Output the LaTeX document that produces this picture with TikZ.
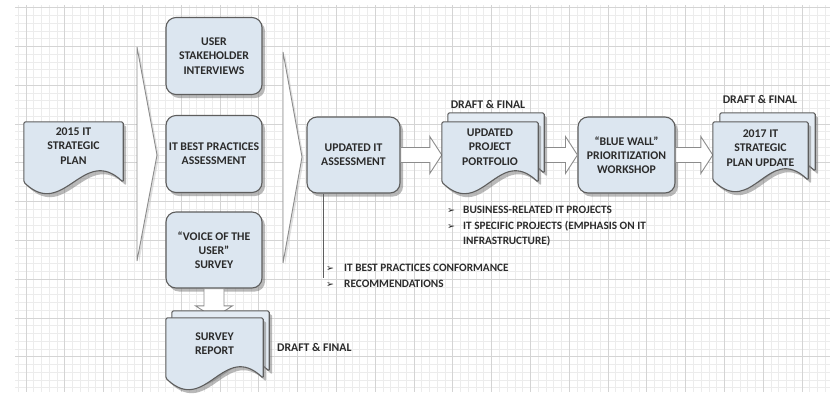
\documentclass[tikz,border=0pt]{standalone}
\usepackage{fontspec}
\setmainfont{Carlito}
\newfontfamily\symfont{DejaVu Sans}
\usetikzlibrary{calc,shadows}

\definecolor{boxfill}{HTML}{DCE6F0}
\definecolor{boxline}{HTML}{5E5E5E}
\definecolor{ink}{HTML}{2B2B2B}
\definecolor{gridminor}{HTML}{ECECEC}
\definecolor{gridmajor}{HTML}{D4D4D4}
\definecolor{arrowline}{HTML}{8C8C8C}

\tikzset{
  lbl/.style={font=\fontsize{11.8}{14.3}\selectfont\bfseries, text=ink, align=center, inner sep=0pt},
  boxshadow/.style={drop shadow={shadow xshift=3bp, shadow yshift=-3.5bp, fill=black!50, opacity=0.55}},
  procbox/.style={lbl, draw=boxline, line width=1.1bp, fill=boxfill, rounded corners=10bp,
    minimum width=96bp, minimum height=77bp, boxshadow},
  docframe/.style={inner sep=0pt, minimum width=96bp, minimum height=60bp},
  docpage/.style={draw=boxline, line width=1.1bp, fill=boxfill, rounded corners=1.5bp, boxshadow},
  backpage/.style={docpage, fill=boxfill!80!white},
  blockarrow/.style={draw=arrowline, line width=0.9bp, fill=white, line join=miter},
  chevron/.style={draw=arrowline, line width=0.9bp, fill=white,
    drop shadow={shadow xshift=2bp, shadow yshift=-2bp, fill=black!30, opacity=.4}},
  note/.style={font=\fontsize{11.3}{15.5}\selectfont\bfseries, text=ink, align=left, inner sep=0pt},
}

% page with a wavy lower edge, built on the frame node #1 and moved by (#2,#3)
\newcommand\docoutline[3]{($(#1.north west)+(#2,#3)$) -- ($(#1.north east)+(#2,#3)$)
  -- ($(#1.south east)+(#2,#3)$) .. controls +(-40,-38) and +(40,38) .. ($(#1.south west)+(#2,#3)$) -- cycle}

% horizontal block arrow from tail #1 to tip #2 (level of the tail)
\newcommand\blockarrowH[2]{\draw[blockarrow] let \p1=(#1), \p2=(#2) in
  (\x1,{\y1+7.5bp}) -- ({\x2-12bp},{\y1+7.5bp}) -- ({\x2-12bp},{\y1+18.5bp}) -- (\x2,\y1)
  -- ({\x2-12bp},{\y1-18.5bp}) -- ({\x2-12bp},{\y1-7.5bp}) -- (\x1,{\y1-7.5bp}) -- cycle;}

% downward block arrow from #1 to #2
\newcommand\blockarrowV[2]{\draw[blockarrow] let \p1=(#1), \p2=(#2) in
  ({\x1-10bp},\y1) -- ({\x1-10bp},{\y2+12bp}) -- ({\x1-18.5bp},{\y2+12bp}) -- (\x1,\y2)
  -- ({\x1+18.5bp},{\y2+12bp}) -- ({\x1+10bp},{\y2+12bp}) -- ({\x1+10bp},\y1) -- cycle;}

\newcommand\bulA{\makebox[18bp][l]{\symfont\fontsize{9.5}{9.5}\selectfont ➢}}
\newcommand\bulB{\makebox[16bp][l]{\symfont\fontsize{9.5}{9.5}\selectfont ➢}}

\begin{document}
\begin{tikzpicture}[x=1bp,y=-1bp]
\useasboundingbox (0,0) rectangle (830,396);
\fill[white] (0,0) rectangle (830,396);

% background grid
\foreach \k in {-1,...,103} \draw[gridminor, line width=0.7bp] ({26+7.76*\k},5) -- ({26+7.76*\k},392);
\foreach \k in {0,...,49} \draw[gridminor, line width=0.7bp] (15,{7.6+7.76*\k}) -- (830,{7.6+7.76*\k});
\foreach \k in {0,...,20} \draw[gridmajor, line width=0.9bp] ({26+38.8*\k},5) -- ({26+38.8*\k},392);
\foreach \k in {0,...,9} \draw[gridmajor, line width=0.9bp] (15,{7.6+38.8*\k}) -- (830,{7.6+38.8*\k});

% merging chevrons
\draw[chevron] (137,47) -- (157,155) -- (137,261) -- cycle;
\draw[chevron] (283,52) -- (302,157) -- (283,263) -- cycle;

% process boxes
\node[procbox] (usi) at (214,56) {USER\\STAKEHOLDER\\INTERVIEWS};
\node[procbox] (itb) at (214,154) {IT BEST PRACTICES\\ASSESSMENT};
\node[procbox, minimum height=76bp] (vou) at (214,250) {“VOICE OF THE\\USER”\\SURVEY};
\node[procbox, minimum width=93bp, minimum height=76bp] (upd) at (353.5,155) {UPDATED IT\\ASSESSMENT};
\node[procbox, minimum width=97bp, minimum height=76bp] (bw) at (626.5,155) {“BLUE WALL”\\PRIORITIZATION\\WORKSHOP};

% frames of the document pages
\node[docframe, minimum width=99bp] (d15) at (73.5,152) {};
\node[docframe] (pf) at (490,152) {};
\node[docframe, minimum width=95bp, minimum height=58bp] (d17) at (760.5,151) {};
\node[docframe, minimum width=97bp] (sr) at (214.5,348) {};

% branch line below the assessment
\coordinate (recEnd) at (323,278);
\draw[boxline, line width=0.9bp] (upd.south -| recEnd) -- (recEnd);

% block arrows
\blockarrowH{upd.east}{pf.west}
\blockarrowH{pf.east |- bw.west}{bw.west}
\blockarrowH{bw.east}{d17.west}
\blockarrowV{vou.south}{sr.north}

% document pages
\draw[docpage] \docoutline{d15}{0}{0};
\draw[backpage] \docoutline{pf}{6}{-9};
\draw[docpage] \docoutline{pf}{0}{0};
\draw[backpage] \docoutline{d17}{7}{-9};
\draw[docpage] \docoutline{d17}{0}{0};
\draw[backpage] \docoutline{sr}{6}{-7};
\draw[docpage] \docoutline{sr}{0}{0};

% document titles
\node[lbl] (d15t) at (73.5,146) {2015 IT\\STRATEGIC\\PLAN};
\node[lbl] (pft) at (490,147) {UPDATED\\PROJECT\\PORTFOLIO};
\node[lbl] (d17t) at (760.5,148) {2017 IT\\STRATEGIC\\PLAN UPDATE};
\node[lbl] (srt) at (214.5,344) {SURVEY\\REPORT};

% version labels
\node[lbl] (pfdf) at (488,104) {DRAFT \& FINAL};
\node[lbl] (d17df) at (760,99) {DRAFT \& FINAL};
\node[lbl, anchor=west] (srdf) at (277,347) {DRAFT \& FINAL};

% bullet notes
\node[note, anchor=north west] (notesA) at (326,264)
  {\bulA IT BEST PRACTICES CONFORMANCE\\\bulA RECOMMENDATIONS};
\node[note, anchor=north west] (notesB) at (447,206)
  {\bulB BUSINESS-RELATED IT PROJECTS\\\bulB IT SPECIFIC PROJECTS (EMPHASIS ON IT\\\hspace*{16bp}INFRASTRUCTURE)};
\end{tikzpicture}
\end{document}
